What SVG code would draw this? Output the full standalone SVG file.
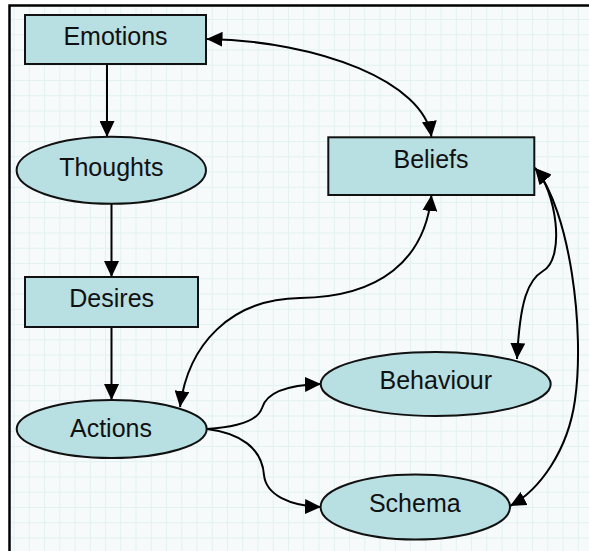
<svg xmlns="http://www.w3.org/2000/svg" width="589" height="551" viewBox="0 0 589 551">
<defs>
<pattern id="grid" patternUnits="userSpaceOnUse" x="13.55" y="3.75" width="15.25" height="15.25">
<path d="M0.5,0 V15.25 M0,0.5 H15.25" stroke="#e2f1f1" stroke-width="1" fill="none"/>
</pattern>
<marker id="ah" markerUnits="userSpaceOnUse" markerWidth="16" markerHeight="15" refX="16" refY="7.5" orient="auto-start-reverse" viewBox="0 0 16 15">
<path d="M0,0 L16,7.5 L0,15 z" fill="#000"/>
</marker>
<style>
.node{fill:#b8dfe2;stroke:#111;stroke-width:2}
.lbl{font-family:"Liberation Sans",Arial,sans-serif;font-size:25px;fill:#111;text-anchor:middle}
.c{fill:none;stroke:#000;stroke-width:2}
.one{marker-end:url(#ah)}
.two{marker-start:url(#ah);marker-end:url(#ah)}
</style>
</defs>
<rect x="0" y="0" width="589" height="551" fill="#fff"/>
<rect x="9" y="6" width="580" height="545" fill="#f6fafb"/>
<rect x="9" y="6" width="580" height="545" fill="url(#grid)"/>
<path d="M9.5,551 V5.5 H589" fill="none" stroke="#000" stroke-width="2.5"/>
<g id="connectors">
<path class="c one" d="M107,64 V137"/>
<path class="c one" d="M111.5,204 V277"/>
<path class="c one" d="M111.5,327 V400"/>
<path class="c two" d="M206.5,39 C320,41 424,82 431.5,137"/>
<path class="c two" d="M431.5,195 C425,260 380,297 300,298 C230,299 188,345 180,407"/>
<path class="c two" d="M535,168 C556,190 566,258 543,271 C528,280 520,300 517,359"/>
<path class="c two" d="M535,168 C570,210 585,330 575,400 C568,450 540,490 510,506"/>
<path class="c one" d="M207,429 C240,427 258,420 262,408 C266,394 285,385 321,384"/>
<path class="c one" d="M207,429 C240,433 262,448 264,475 C266,495 290,506 321,507"/>
</g>
<g id="emotions">
<rect class="node" x="25" y="15" width="181" height="49"/>
<text class="lbl" x="115.5" y="45">Emotions</text>
</g>
<g id="thoughts">
<ellipse class="node" cx="111.3" cy="170.3" rx="94.7" ry="33.5"/>
<text class="lbl" x="111.3" y="176">Thoughts</text>
</g>
<g id="desires">
<rect class="node" x="25" y="277" width="173" height="50"/>
<text class="lbl" x="111.7" y="306.7">Desires</text>
</g>
<g id="actions">
<ellipse class="node" cx="111.7" cy="429" rx="95" ry="29"/>
<text class="lbl" x="111" y="436.7">Actions</text>
</g>
<g id="beliefs">
<rect class="node" x="328.3" y="137.3" width="206" height="57.7"/>
<text class="lbl" x="431" y="167.7">Beliefs</text>
</g>
<g id="behaviour">
<ellipse class="node" cx="435.7" cy="384" rx="115" ry="32"/>
<text class="lbl" x="435.8" y="389">Behaviour</text>
</g>
<g id="schema">
<ellipse class="node" cx="415.3" cy="507" rx="94.7" ry="32.5"/>
<text class="lbl" x="414.8" y="511.7">Schema</text>
</g>
</svg>
